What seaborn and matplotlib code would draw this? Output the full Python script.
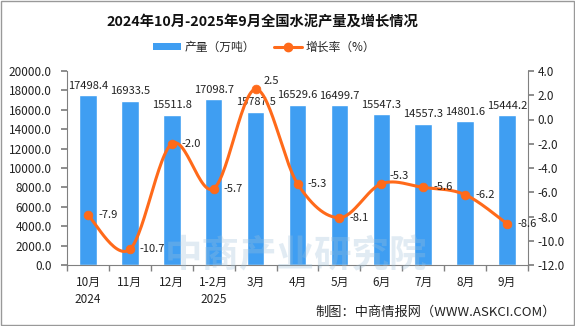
import numpy as np
import pandas as pd
import matplotlib
matplotlib.use("Agg")
import matplotlib.pyplot as plt
import seaborn as sns
from matplotlib.patches import Rectangle
from matplotlib.lines import Line2D
from matplotlib.patches import Patch

months = ["10月\n2024", "11月", "12月", "1-2月\n2025", "3月", "4月", "5月", "6月", "7月", "8月", "9月"]
output = [17498.4, 16933.5, 15511.8, 17098.7, 15787.5, 16529.6, 16499.7, 15547.3, 14557.3, 14801.6, 15444.2]
growth = [-7.9, -10.7, -2.0, -5.7, 2.5, -5.3, -8.1, -5.3, -5.6, -6.2, -8.6]

sns.set_theme(style="white")
plt.rcParams['font.family'] = ['Noto Sans CJK SC', 'DejaVu Sans']

BLUE = "#3f9ef2"
ORANGE = "#ff6a1a"
GRAY = "#808080"
TXT = "#222222"

fig = plt.figure(figsize=(5.75, 3.26), dpi=100)
ax = fig.add_axes([67/575, 1-265/326, (528-67)/575, (265-71)/326])

df = pd.DataFrame({"month": months, "output": output, "growth": growth})
sns.barplot(data=df, x="month", y="output", color=BLUE, width=0.42, ax=ax, saturation=1, zorder=2)
ax.set_xlim(-0.5, len(months)-0.5)
ax.set_ylim(0, 20000)
yt = np.arange(0, 20001, 2000)
ax.set_yticks(yt)
ax.set_yticklabels([f"{v:.1f}" for v in yt], fontsize=8.5, color=TXT)
ax.set_xlabel("")
ax.set_ylabel("")
ax.tick_params(axis="x", length=0, labelsize=8.5, pad=8, labelcolor=TXT)
for lab in ax.get_xticklabels():
    lab.set_linespacing(1.35)
ax.set_xticks(np.arange(-0.5, len(months), 1), minor=True)
ax.tick_params(axis="x", which="minor", length=4, color=GRAY, direction="out", bottom=True)
ax.tick_params(axis="y", length=4, color=GRAY, direction="out", left=True, pad=7)
for s in ["top", "right"]:
    ax.spines[s].set_visible(False)
for s in ["left", "bottom"]:
    ax.spines[s].set_color(GRAY)
    ax.spines[s].set_linewidth(0.8)

for i, v in enumerate(output):
    ax.text(i, v + 450, f"{v:.1f}", ha="center", va="bottom", fontsize=8, color=TXT, zorder=5)

ax2 = ax.twinx()
ax2.set_ylim(-12, 4)
yt2 = np.arange(-12, 4.01, 2)
ax2.set_yticks(yt2)
ax2.set_yticklabels([f"{v:.1f}" for v in yt2], fontsize=8.5, color=TXT)
ax2.tick_params(axis="y", length=4, color=GRAY, direction="out", right=True, pad=3)
for s in ["top", "left", "bottom"]:
    ax2.spines[s].set_visible(False)
ax2.spines["right"].set_color(GRAY)
ax2.spines["right"].set_linewidth(0.8)
ax2.grid(False)
ax.grid(False)

# smooth curve (Catmull-Rom) through the data points
xs = np.arange(len(growth), dtype=float)
ys = np.array(growth, dtype=float)
px = np.concatenate([[xs[0]], xs, [xs[-1]]])
py = np.concatenate([[ys[0]], ys, [ys[-1]]])
cx, cy = [], []
t = np.linspace(0, 1, 30)
for i in range(1, len(px) - 2):
    p0, p1, p2, p3 = py[i-1], py[i], py[i+1], py[i+2]
    q0, q1, q2, q3 = px[i-1], px[i], px[i+1], px[i+2]
    fy = 0.5*((2*p1) + (-p0+p2)*t + (2*p0-5*p1+4*p2-p3)*t**2 + (-p0+3*p1-3*p2+p3)*t**3)
    fx = 0.5*((2*q1) + (-q0+q2)*t + (2*q0-5*q1+4*q2-q3)*t**2 + (-q0+3*q1-3*q2+q3)*t**3)
    cx.extend(fx); cy.extend(fy)
ax2.plot(cx, cy, color=ORANGE, lw=2.2, solid_capstyle="round", zorder=3)
sns.scatterplot(x=xs, y=ys, color=ORANGE, s=40, edgecolor=ORANGE, ax=ax2, zorder=4, legend=False)

for i, v in enumerate(growth):
    if i == 4:
        ax2.text(i + 0.2, v + 0.25, f"{v:.1f}", ha="left", va="bottom", fontsize=8, color=TXT)
    elif i == 7:
        ax2.text(i + 0.2, v + 0.2, f"{v:.1f}", ha="left", va="bottom", fontsize=8, color=TXT)
    else:
        ax2.text(i + 0.24, v, f"{v:.1f}", ha="left", va="center", fontsize=8, color=TXT)

# watermark
fig.text(296/575, 1-256/326, "中商产业研究院", ha="center", va="center", fontsize=27,
         fontweight="bold", color="#9ec0da", alpha=0.3, zorder=10)

fig.text(262/575, 1-22/326, "2024年10月-2025年9月全国水泥产量及增长情况", ha="center", va="center",
         fontsize=10.3, fontweight="bold", color="#111111")

handles = [Patch(facecolor=BLUE, edgecolor="none"),
           Line2D([0], [0], color=ORANGE, lw=2.2, marker="o", markersize=6)]
fig.legend(handles, ["产量（万吨）", "增长率（%）"], loc="center", bbox_to_anchor=(264/575, 1-47/326),
           ncol=2, frameon=False, fontsize=8.5, handlelength=2.4, handleheight=0.55, columnspacing=1.6,
           handletextpad=0.3)

fig.text(556/575, 1-312/326, "制图：中商情报网（WWW.ASKCI.COM）", ha="right", va="center",
         fontsize=9.5, color=TXT)

fig.patches.append(Rectangle((0.002, 0.003), 0.996, 0.994, transform=fig.transFigure,
                             fill=False, edgecolor="#999999", lw=1))

fig.savefig("out.png", dpi=100)
